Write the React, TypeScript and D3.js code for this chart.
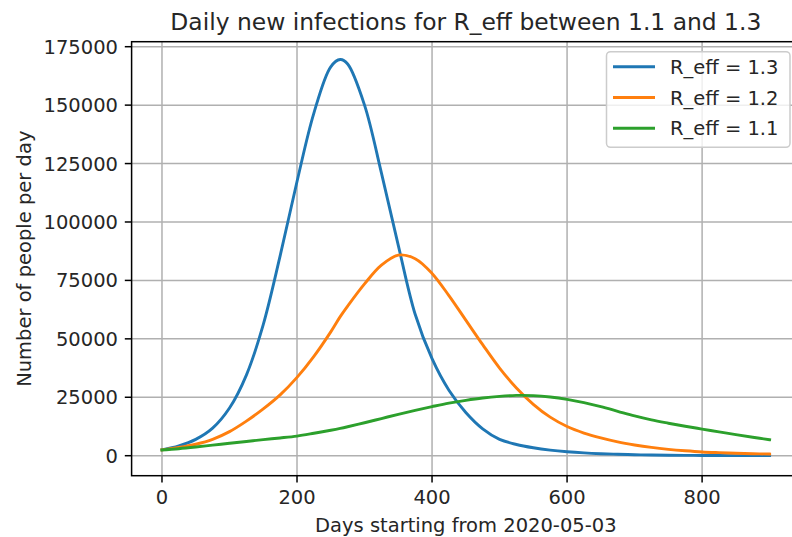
import { useEffect, useRef } from 'react';
import * as d3 from 'd3';

const width = 792;
const height = 537;
// plot frame (right spine falls just outside the picture, as in the reference)
const plotLeft = 131.6;
const plotRight = 800;
const plotTop = 41.7;
const plotBottom = 475.7;
const fontFamily = 'DejaVu Sans, sans-serif';
const fontSize = 19.5;

const days = [
  0, 25, 50, 75, 100, 125, 150, 175, 200, 225, 250, 264, 275, 300, 325, 350, 375, 400, 425,
  450, 475, 500, 525, 550, 575, 600, 625, 650, 675, 700, 725, 750, 775, 800, 825, 850, 875, 900,
];

const reff13 = [
  2500, 4200, 7000, 11800, 20400, 34500, 56100, 85500, 117300, 146600, 166400, 169500, 167600,
  150000, 121000, 90000, 60500, 41500, 28000, 18500, 11500, 7000, 4800, 3400, 2400, 1700, 1200,
  850, 600, 420, 300, 210, 150, 105, 75, 52, 37, 26,
];

const reff12 = [
  2500, 3500, 4900, 7000, 10300, 14800, 20000, 26000, 33500, 42500, 53000, 59500, 64000, 73500,
  81500, 85800, 84300, 78000, 68500, 58000, 47500, 37500, 29000, 22000, 16500, 12500, 9700, 7600,
  5900, 4600, 3550, 2730, 2100, 1600, 1300, 1060, 860, 700,
];

const reff11 = [
  2500, 3000, 3700, 4500, 5300, 6100, 6900, 7600, 8400, 9600, 10900, 11700, 12400, 14100, 15900,
  17700, 19400, 21000, 22500, 23700, 24700, 25400, 25800, 25700, 25100, 24100, 22700, 21000,
  19000, 17000, 15300, 13900, 12600, 11400, 10200, 9000, 7900, 6850,
];

const seriesLabels = ['R_eff = 1.3', 'R_eff = 1.2', 'R_eff = 1.1'];
const seriesColors = ['#1f77b4', '#ff7f0e', '#2ca02c'];
const xTicks = [0, 200, 400, 600, 800];
const yTicks = [0, 25000, 50000, 75000, 100000, 125000, 150000, 175000];

const App = () => {
  const svgRef = useRef(null);

  useEffect(() => {
    const svg = d3.select(svgRef.current);
    svg.selectAll('*').remove();

    const x = d3.scaleLinear().domain([-45, 945]).range([plotLeft, plotRight]);
    const y = d3.scaleLinear().domain([-8557, 177139]).range([plotBottom, plotTop]);

    svg
      .append('defs')
      .append('clipPath')
      .attr('id', 'plot-clip')
      .append('rect')
      .attr('x', plotLeft)
      .attr('y', plotTop)
      .attr('width', plotRight - plotLeft)
      .attr('height', plotBottom - plotTop);

    // grid
    const grid = svg.append('g').attr('stroke', '#b0b0b0').attr('stroke-width', 1.5);
    grid
      .selectAll('line.gx')
      .data(xTicks)
      .join('line')
      .attr('x1', (d) => x(d))
      .attr('x2', (d) => x(d))
      .attr('y1', plotTop)
      .attr('y2', plotBottom);
    grid
      .selectAll('line.gy')
      .data(yTicks)
      .join('line')
      .attr('class', 'gy')
      .attr('x1', plotLeft)
      .attr('x2', plotRight)
      .attr('y1', (d) => y(d))
      .attr('y2', (d) => y(d));

    // lines
    const series = [reff13, reff12, reff11];
    const line = d3
      .line<number>()
      .x((_, i) => x(days[i]))
      .y((d) => y(d))
      .curve(d3.curveCatmullRom.alpha(0.5));

    svg
      .append('g')
      .attr('clip-path', 'url(#plot-clip)')
      .selectAll('path')
      .data(series)
      .join('path')
      .attr('fill', 'none')
      .attr('stroke', (_, i) => seriesColors[i])
      .attr('stroke-width', 2.9)
      .attr('stroke-linejoin', 'round')
      .attr('stroke-linecap', 'square')
      .attr('d', (d) => line(d));

    // spines
    svg
      .append('rect')
      .attr('x', plotLeft)
      .attr('y', plotTop)
      .attr('width', plotRight - plotLeft)
      .attr('height', plotBottom - plotTop)
      .attr('fill', 'none')
      .attr('stroke', '#000')
      .attr('stroke-width', 1.5);

    // x ticks
    const xt = svg.append('g');
    xt.selectAll('line')
      .data(xTicks)
      .join('line')
      .attr('x1', (d) => x(d))
      .attr('x2', (d) => x(d))
      .attr('y1', plotBottom)
      .attr('y2', plotBottom + 6.8)
      .attr('stroke', '#000')
      .attr('stroke-width', 1.5);
    xt.selectAll('text')
      .data(xTicks)
      .join('text')
      .attr('x', (d) => x(d))
      .attr('y', plotBottom + 13.6 + fontSize * 0.76)
      .attr('text-anchor', 'middle')
      .text((d) => d);

    // y ticks
    const yt = svg.append('g');
    yt.selectAll('line')
      .data(yTicks)
      .join('line')
      .attr('x1', plotLeft - 6.8)
      .attr('x2', plotLeft)
      .attr('y1', (d) => y(d))
      .attr('y2', (d) => y(d))
      .attr('stroke', '#000')
      .attr('stroke-width', 1.5);
    yt.selectAll('text')
      .data(yTicks)
      .join('text')
      .attr('x', plotLeft - 13.6)
      .attr('y', (d) => y(d))
      .attr('dy', '0.36em')
      .attr('text-anchor', 'end')
      .text((d) => d);

    // labels
    const cx = (plotLeft + plotRight) / 2;
    svg
      .append('text')
      .attr('x', cx)
      .attr('y', 30)
      .attr('text-anchor', 'middle')
      .attr('font-size', fontSize * 1.2)
      .text('Daily new infections for R_eff between 1.1 and 1.3');
    svg
      .append('text')
      .attr('x', cx)
      .attr('y', 532)
      .attr('text-anchor', 'middle')
      .text('Days starting from 2020-05-03');
    svg
      .append('text')
      .attr('transform', `translate(31,${(plotTop + plotBottom) / 2}) rotate(-90)`)
      .attr('text-anchor', 'middle')
      .text('Number of people per day');

    // legend
    const lg = svg.append('g');
    lg.append('rect')
      .attr('x', 606.5)
      .attr('y', 51.7)
      .attr('width', 183.5)
      .attr('height', 95.6)
      .attr('rx', 4)
      .attr('fill', 'rgba(255,255,255,0.8)')
      .attr('stroke', '#cccccc')
      .attr('stroke-width', 1.5);
    const rows = lg
      .selectAll('g')
      .data(seriesLabels)
      .join('g')
      .attr('transform', (_, i) => `translate(0,${66.7 + i * 30.8})`);
    rows
      .append('line')
      .attr('x1', 613)
      .attr('x2', 655)
      .attr('stroke', (_, i) => seriesColors[i])
      .attr('stroke-width', 2.9);
    rows
      .append('text')
      .attr('x', 670)
      .attr('dy', '0.36em')
      .text((d) => d);
  }, []);

  return (
    <div style={{ position: 'absolute', left: 0, top: 0 }}>
      <svg
        ref={svgRef}
        width={width}
        height={height}
        viewBox={`0 0 ${width} ${height}`}
        style={{
          display: 'block',
          background: '#fff',
          fontFamily,
          fontSize,
          fill: '#262626',
        }}
      ></svg>
    </div>
  );
};

export default App;
